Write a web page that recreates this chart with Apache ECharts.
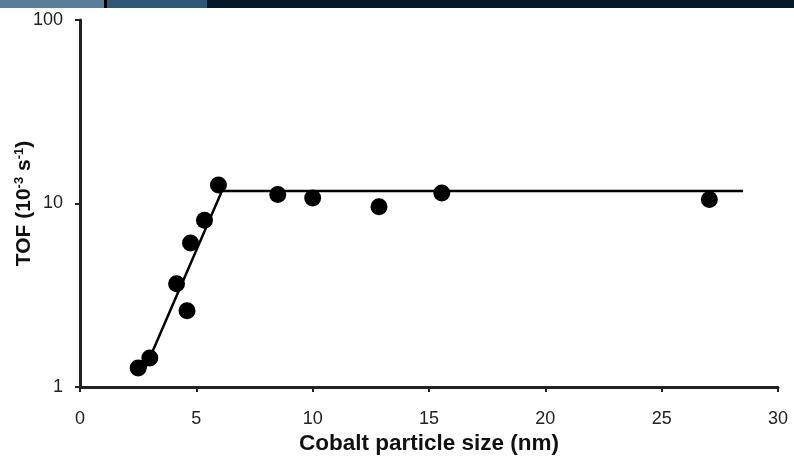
<!DOCTYPE html>
<html><head><meta charset="utf-8">
<script src="https://cdn.jsdelivr.net/npm/echarts@6/dist/echarts.min.js"></script>
<style>html,body{margin:0;padding:0;background:#fff}#c{width:794px;height:456px}</style>
</head><body><div id="c"></div>
<script>
var xTicks = [0, 5, 10, 15, 20, 25, 30];
var yTicks = [1, 10, 100];
var particleSize = [2.5, 3.0, 4.15, 4.6, 4.75, 5.35, 5.95, 8.5, 10.0, 12.85, 15.55, 27.05];
var tofValues = [1.27, 1.44, 3.65, 2.6, 6.1, 8.1, 12.6, 11.2, 10.7, 9.6, 11.4, 10.5];
var fitX = [2.75, 6.1, 28.5];
var fitY = [1.22, 11.7, 11.7];

var pts = particleSize.map(function (x, i) { return [x, tofValues[i]]; });
var fit = fitX.map(function (x, i) { return [x, fitY[i]]; });

var chart = echarts.init(document.getElementById('c'));
chart.setOption({
  animation: false,
  backgroundColor: '#fff',
  graphic: [
    { type: 'rect', shape: { x: 0, y: 0, width: 794, height: 8 }, style: { fill: '#06192a' } },
    { type: 'rect', shape: { x: 0, y: 0, width: 104, height: 8 }, style: { fill: '#5a7e9b' } },
    { type: 'rect', shape: { x: 104, y: 0, width: 3, height: 8 }, style: { fill: '#000' } },
    { type: 'rect', shape: { x: 107, y: 0, width: 100, height: 8 }, style: { fill: '#2f5877' } }
  ],
  grid: { left: 80, right: 16, top: 20, bottom: 69, containLabel: false, outerBoundsMode: 'none' },
  xAxis: {
    type: 'value', min: xTicks[0], max: xTicks[xTicks.length - 1], interval: 5,
    name: 'Cobalt particle size (nm)', nameLocation: 'middle', nameGap: 45, nameMoveOverlap: false,
    nameTextStyle: { fontFamily: 'Liberation Sans', fontWeight: 'bold', fontSize: 22.5, color: '#111' },
    axisLine: { lineStyle: { color: '#222', width: 3 } },
    axisTick: { show: true, inside: false, length: 5, lineStyle: { color: '#222', width: 2 } },
    axisLabel: { fontFamily: 'Liberation Sans', fontSize: 18, color: '#222', margin: 23 },
    splitLine: { show: false }
  },
  yAxis: {
    type: 'log', logBase: 10, min: yTicks[0], max: yTicks[yTicks.length - 1],
    name: '{n|TOF (10}{s|-3}{n| s}{s|-1}{n|)}', nameLocation: 'middle', nameGap: 44, nameRotate: 90,
    nameMoveOverlap: false,
    nameTextStyle: {
      rich: {
        n: { fontFamily: 'Liberation Sans', fontWeight: 'bold', fontSize: 21, color: '#111' },
        s: { fontFamily: 'Liberation Sans', fontWeight: 'bold', fontSize: 13, color: '#111', verticalAlign: 'top', padding: [0, 0, 10, 0] }
      }
    },
    axisLine: { show: true, lineStyle: { color: '#222', width: 3 } },
    axisTick: { show: true, length: 5, lineStyle: { color: '#222', width: 2 } },
    minorTick: { show: false },
    axisLabel: { fontFamily: 'Liberation Sans', fontSize: 18, color: '#222', margin: 17 },
    splitLine: { show: false }
  },
  series: [
    {
      type: 'line', data: fit, showSymbol: false, symbol: 'none',
      lineStyle: { color: '#000', width: 2.5 }, z: 2
    },
    {
      type: 'scatter', data: pts, symbol: 'circle', symbolSize: 17,
      itemStyle: { color: '#000', opacity: 1 }, z: 3
    }
  ]
});
</script></body></html>
